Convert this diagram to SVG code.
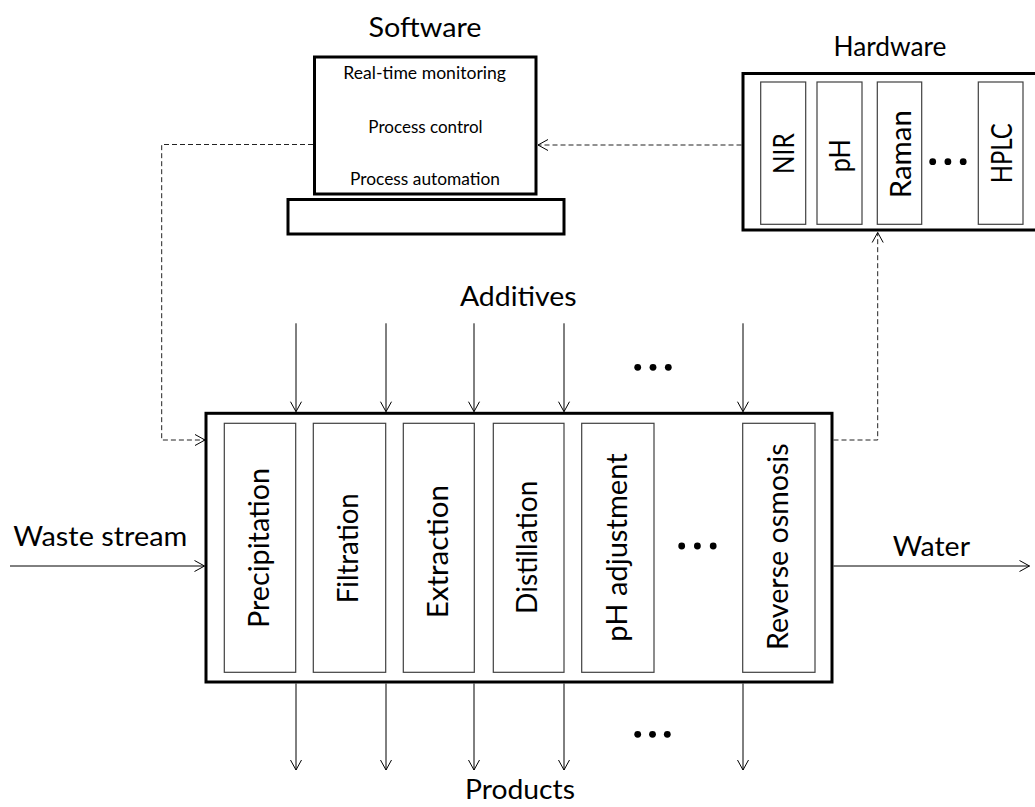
<svg xmlns="http://www.w3.org/2000/svg" width="1035" height="807" viewBox="0 0 1035 807">
<style>
.bg{fill:#ffffff}
.thick{fill:#ffffff;stroke:#000000;stroke-width:3}
.inner{fill:#ffffff;stroke:#404040;stroke-width:1.2}
.lbl{font-family:Lato,"Open Sans","Liberation Sans",sans-serif;fill:#000000}
.big{font-size:27px}
.small{font-size:16.5px}
.rot{font-size:28.5px}
.solid{fill:none;stroke:#000000;stroke-width:1}
.dash{fill:none;stroke:#222222;stroke-width:1;stroke-dasharray:5 3}
.dot{fill:#000000}
</style>
<defs>
<marker id="chev" viewBox="-11 -7 12 14" markerWidth="12" markerHeight="14" refX="0" refY="0" markerUnits="userSpaceOnUse" orient="auto">
<path d="M-10,-5.5 L0,0 L-10,5.5" fill="none" stroke="#000000" stroke-width="1" stroke-dasharray="none"/>
</marker>
</defs>
<rect class="bg" x="0" y="0" width="1035" height="807"/>

<g id="connectors">
<path class="dash" d="M313,144.5 L161.7,144.5 L161.7,440 L205,440" marker-end="url(#chev)"/>
<path class="dash" d="M741.5,145 L538,145" marker-end="url(#chev)"/>
<path class="dash" d="M833.5,440 L877.7,440 L877.7,232.5" marker-end="url(#chev)"/>
<path class="solid" d="M10,566 L204.5,566" marker-end="url(#chev)"/>
<path class="solid" d="M833.5,566 L1029.5,566" marker-end="url(#chev)"/>
<path class="solid" d="M296,323.3 L296,411.7" marker-end="url(#chev)"/>
<path class="solid" d="M386,323.3 L386,411.7" marker-end="url(#chev)"/>
<path class="solid" d="M474,323.3 L474,411.7" marker-end="url(#chev)"/>
<path class="solid" d="M564,323.3 L564,411.7" marker-end="url(#chev)"/>
<path class="solid" d="M743,323.3 L743,411.7" marker-end="url(#chev)"/>
<path class="solid" d="M296,683.5 L296,770" marker-end="url(#chev)"/>
<path class="solid" d="M386,683.5 L386,770" marker-end="url(#chev)"/>
<path class="solid" d="M474,683.5 L474,770" marker-end="url(#chev)"/>
<path class="solid" d="M564,683.5 L564,770" marker-end="url(#chev)"/>
<path class="solid" d="M743,683.5 L743,770" marker-end="url(#chev)"/>
</g>

<g id="software">
<text class="lbl big" x="425" y="36.7" text-anchor="middle" textLength="113" lengthAdjust="spacingAndGlyphs">Software</text>
<rect class="thick" x="314.5" y="57" width="221.5" height="137"/>
<rect class="thick" x="288" y="199.5" width="276" height="34.5"/>
<text class="lbl small" x="424.7" y="79.3" text-anchor="middle" textLength="162.7" lengthAdjust="spacingAndGlyphs">Real-time monitoring</text>
<text class="lbl small" x="425.5" y="132.7" text-anchor="middle" textLength="114.3" lengthAdjust="spacingAndGlyphs">Process control</text>
<text class="lbl small" x="425" y="185" text-anchor="middle" textLength="150" lengthAdjust="spacingAndGlyphs">Process automation</text>
</g>

<g id="hardware">
<text class="lbl big" x="890" y="56" text-anchor="middle" textLength="113" lengthAdjust="spacingAndGlyphs">Hardware</text>
<rect class="thick" x="743" y="73.5" width="295" height="156.5"/>
<rect class="inner" x="760.7" y="82" width="45" height="142.3"/>
<rect class="inner" x="817" y="82" width="45" height="142.3"/>
<rect class="inner" x="877.3" y="82" width="44.4" height="142.3"/>
<rect class="inner" x="978.3" y="82" width="44.7" height="142.3"/>
<text class="lbl rot" transform="translate(794,153.7) rotate(-90)" text-anchor="middle" textLength="40.7" lengthAdjust="spacingAndGlyphs">NIR</text>
<text class="lbl rot" transform="translate(850,155.8) rotate(-90)" text-anchor="middle" textLength="33" lengthAdjust="spacingAndGlyphs">pH</text>
<text class="lbl rot" transform="translate(911.2,154.2) rotate(-90)" text-anchor="middle" textLength="88" lengthAdjust="spacingAndGlyphs">Raman</text>
<text class="lbl rot" transform="translate(1011.7,153.3) rotate(-90)" text-anchor="middle" textLength="60" lengthAdjust="spacingAndGlyphs">HPLC</text>
<circle class="dot" cx="932.7" cy="161.7" r="3.4"/>
<circle class="dot" cx="947.9" cy="161.7" r="3.4"/>
<circle class="dot" cx="963.2" cy="161.7" r="3.4"/>
</g>

<g id="additives">
<text class="lbl big" x="518.3" y="306" text-anchor="middle" textLength="116.7" lengthAdjust="spacingAndGlyphs">Additives</text>
<circle class="dot" cx="637.7" cy="367.3" r="3.4"/>
<circle class="dot" cx="653" cy="367.3" r="3.4"/>
<circle class="dot" cx="668.3" cy="367.3" r="3.4"/>
</g>

<g id="process">
<rect class="thick" x="206" y="413.3" width="626" height="268.7"/>
<rect class="inner" x="224.3" y="423.3" width="71.4" height="249"/>
<rect class="inner" x="313.3" y="423.3" width="72.4" height="249"/>
<rect class="inner" x="403.3" y="423.3" width="71" height="249"/>
<rect class="inner" x="493.3" y="423.3" width="70.7" height="249"/>
<rect class="inner" x="581.7" y="423.3" width="72.3" height="249"/>
<rect class="inner" x="742.7" y="423.3" width="72.3" height="249"/>
<text class="lbl rot" transform="translate(269,548) rotate(-90)" text-anchor="middle" textLength="160" lengthAdjust="spacingAndGlyphs">Precipitation</text>
<text class="lbl rot" transform="translate(358.3,548.3) rotate(-90)" text-anchor="middle" textLength="110" lengthAdjust="spacingAndGlyphs">Filtration</text>
<text class="lbl rot" transform="translate(448,551.7) rotate(-90)" text-anchor="middle" textLength="133.3" lengthAdjust="spacingAndGlyphs">Extraction</text>
<text class="lbl rot" transform="translate(537.3,547.3) rotate(-90)" text-anchor="middle" textLength="133.3" lengthAdjust="spacingAndGlyphs">Distillation</text>
<text class="lbl rot" transform="translate(627,547.5) rotate(-90)" text-anchor="middle" textLength="188.3" lengthAdjust="spacingAndGlyphs">pH adjustment</text>
<text class="lbl rot" transform="translate(787.5,546.7) rotate(-90)" text-anchor="middle" textLength="206.7" lengthAdjust="spacingAndGlyphs">Reverse osmosis</text>
<circle class="dot" cx="681.7" cy="546" r="3.4"/>
<circle class="dot" cx="697.4" cy="546" r="3.4"/>
<circle class="dot" cx="713.2" cy="546" r="3.4"/>
</g>

<g id="waste-stream">
<text class="lbl big" x="13.3" y="546" textLength="174" lengthAdjust="spacingAndGlyphs">Waste stream</text>
</g>

<g id="water">
<text class="lbl big" x="892.7" y="556" textLength="77.3" lengthAdjust="spacingAndGlyphs">Water</text>
</g>

<g id="products">
<circle class="dot" cx="637.7" cy="734.3" r="3.4"/>
<circle class="dot" cx="652.5" cy="734.3" r="3.4"/>
<circle class="dot" cx="667.3" cy="734.3" r="3.4"/>
<text class="lbl big" x="520" y="799" text-anchor="middle" textLength="110" lengthAdjust="spacingAndGlyphs">Products</text>
</g>
</svg>
